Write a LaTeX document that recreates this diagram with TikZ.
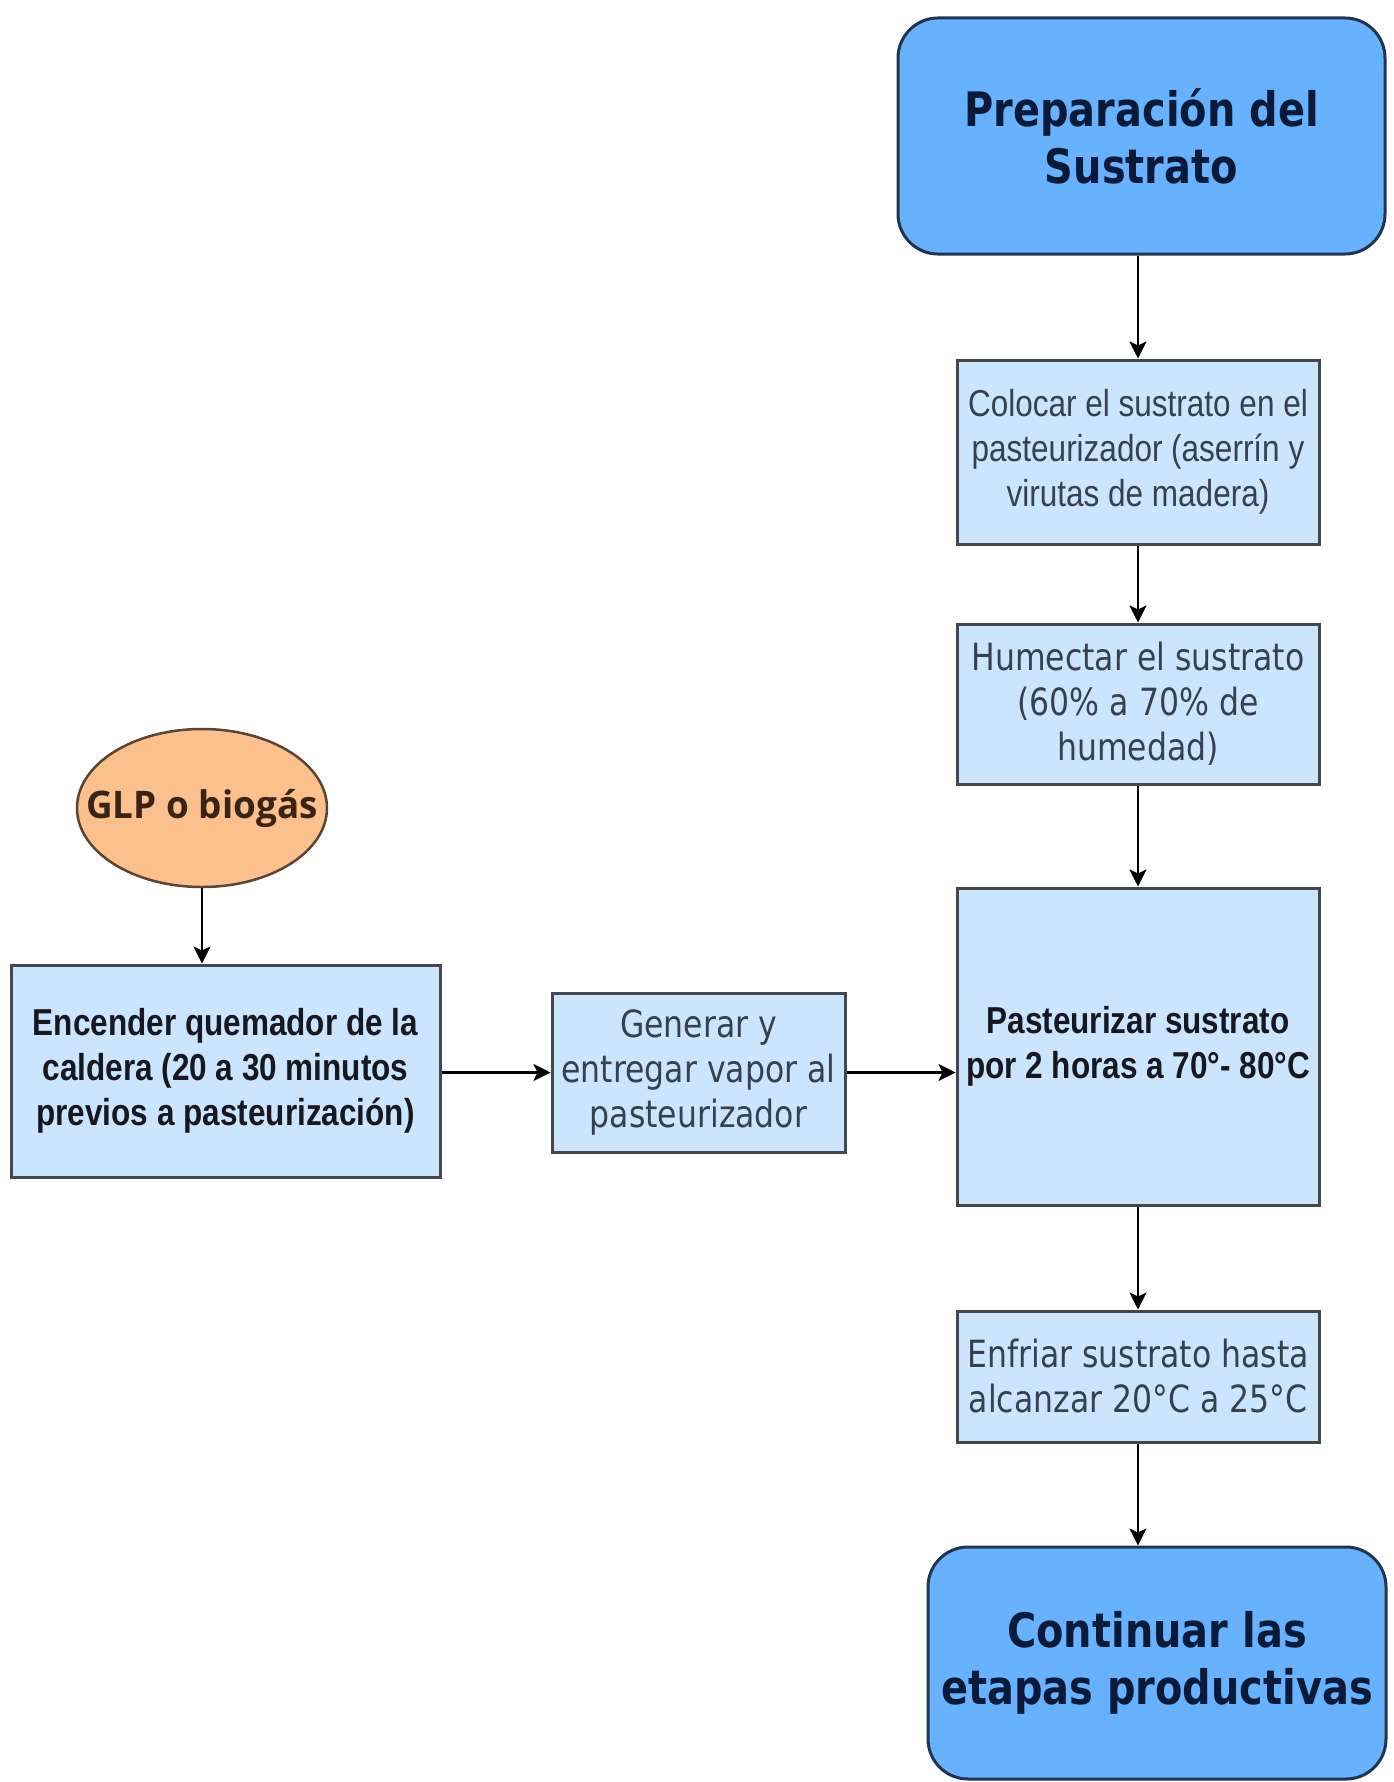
\documentclass[tikz,border=0pt]{standalone}
\usepackage{fontspec}
\newfontfamily\dvfont[FakeStretch=0.84]{DejaVu Sans}
\newfontfamily\libfont[FakeStretch=0.84]{Liberation Sans}
\newfontfamily\osfont[FakeStretch=0.97]{Open Sans}
\usetikzlibrary{arrows.meta,shapes.geometric}
\definecolor{titlefill}{HTML}{66B2FF}
\definecolor{titledraw}{HTML}{22354F}
\definecolor{titletext}{HTML}{0B1A38}
\definecolor{boxfill}{HTML}{CCE5FF}
\definecolor{boxdraw}{HTML}{43484F}
\definecolor{boxtext}{HTML}{36414E}
\definecolor{boldtext}{HTML}{17181F}
\definecolor{glpfill}{HTML}{FCC08C}
\definecolor{glpdraw}{HTML}{5A4434}
\definecolor{glptext}{HTML}{3A2416}
\begin{document}
\begin{tikzpicture}[x=1pt,y=-1pt,
  titlebox/.style={draw=titledraw, line width=3pt, fill=titlefill, rounded corners=40pt,
    inner sep=0pt, align=center, text=titletext,
    font=\dvfont\bfseries\fontsize{47.5}{57}\selectfont},
  stepbox/.style={draw=boxdraw, line width=3pt, fill=boxfill, inner sep=0pt,
    align=center, text=boxtext},
  dvtext/.style={font=\dvfont\fontsize{37.5}{45}\selectfont},
  libtext/.style={font=\libfont\fontsize{37.5}{45}\selectfont},
  libbold/.style={font=\libfont\bfseries\fontsize{37.5}{45}\selectfont, text=boldtext},
  arr/.style={draw=black, line width=2.5pt, -{Stealth[length=17pt,width=17pt,inset=4pt]}}
]
\useasboundingbox[fill=white] (0,0) rectangle (1394,1782);

\node[titlebox, minimum width=487pt, minimum height=236pt] (prep) at (1141.5,136)
  {Preparación del\\Sustrato};
\node[stepbox, libtext, minimum width=362pt, minimum height=184pt] (colocar) at (1138,452)
  {Colocar el sustrato en el\\pasteurizador (aserrín y\\virutas de madera)};
\node[stepbox, dvtext, minimum width=362pt, minimum height=160pt] (humectar) at (1138,704)
  {Humectar el sustrato\\(60\% a 70\% de\\humedad)};
\node[stepbox, libbold, minimum width=362pt, minimum height=317pt] (pasteur) at (1138,1046.5)
  {Pasteurizar sustrato\\por 2 horas a 70°- 80°C};
\node[stepbox, dvtext, minimum width=362pt, minimum height=131pt] (enfriar) at (1138,1376.5)
  {Enfriar sustrato hasta\\alcanzar 20°C a 25°C};
\node[titlebox, minimum width=458pt, minimum height=232pt] (final) at (1157,1663)
  {Continuar las\\etapas productivas};

\node[ellipse, draw=glpdraw, line width=2.5pt, fill=glpfill, inner xsep=-40pt, inner ysep=0pt,
  minimum width=250pt, minimum height=158pt, text=glptext,
  font=\osfont\bfseries\fontsize{38}{45}\selectfont] (glp) at (202,808) {GLP o biogás};
\node[stepbox, libbold, minimum width=429pt, minimum height=212pt] (encender) at (225.5,1071)
  {Encender quemador de la\\caldera (20 a 30 minutos\\previos a pasteurización)};
\node[stepbox, dvtext, minimum width=293pt, minimum height=159pt] (generar) at (698.5,1072.5)
  {Generar y\\entregar vapor al\\pasteurizador};

\draw[arr] (prep.south -| colocar.north) -- (colocar.north);
\draw[arr] (colocar.south) -- (humectar.north);
\draw[arr] (humectar.south) -- (pasteur.north);
\draw[arr] (pasteur.south) -- (enfriar.north);
\draw[arr] (enfriar.south) -- (enfriar.south |- final.north);
\draw[arr] (glp.south) -- (glp.south |- encender.north);
\draw[arr] (encender.east |- generar.west) -- (generar.west);
\draw[arr] (generar.east) -- (generar.east -| pasteur.west);
\end{tikzpicture}
\end{document}
